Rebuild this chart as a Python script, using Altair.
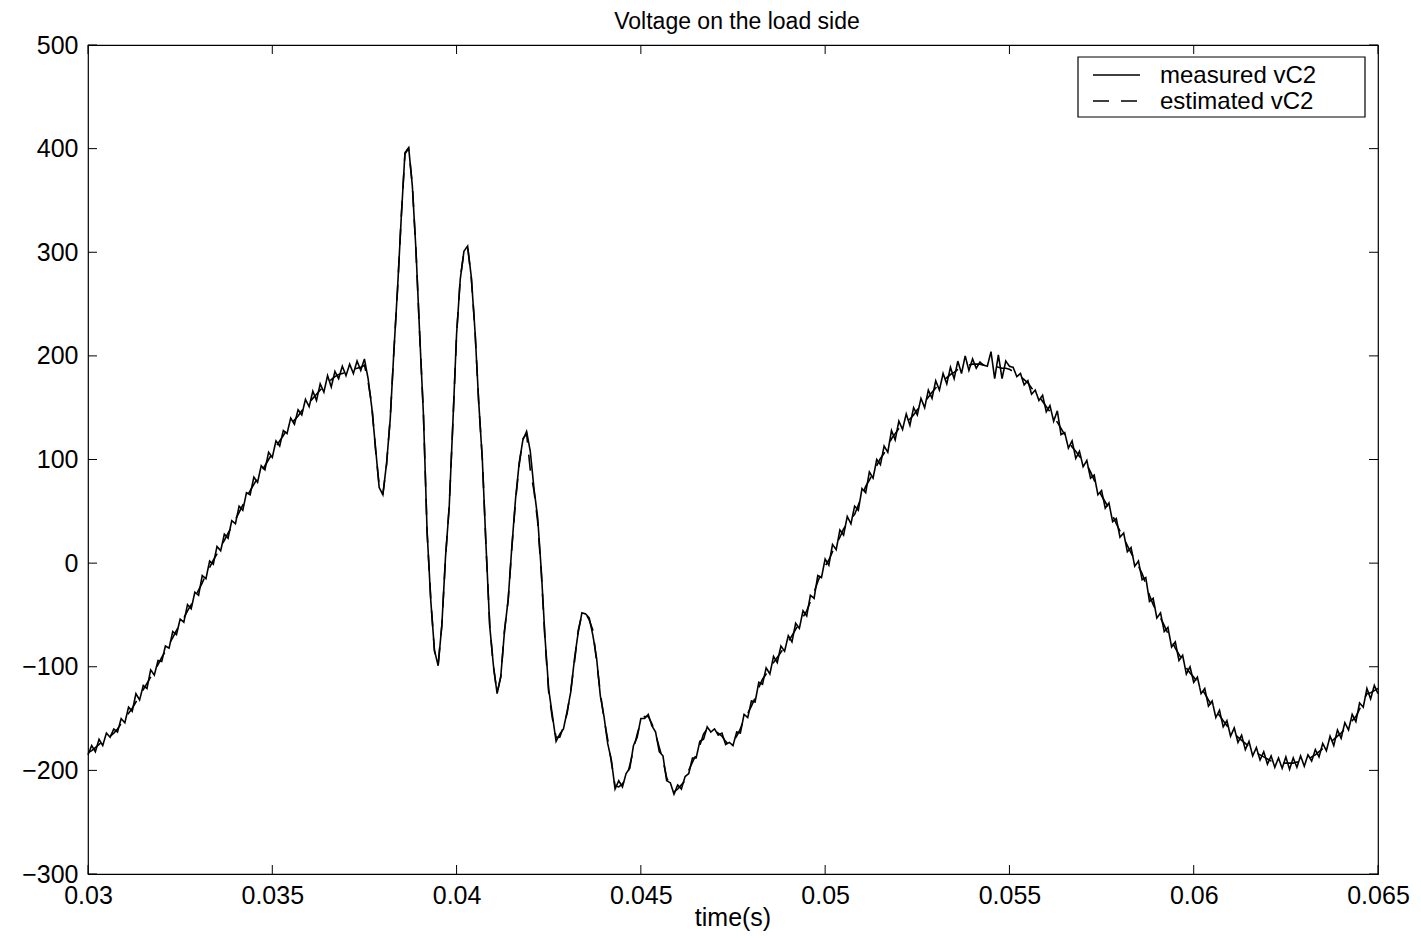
import altair as alt
import pandas as pd

# Sample grid (s)
T_START = 0.03
T_STEP = 0.0001
N = 351

# measured vC2 (V)
MEASURED = [
    -185, -176, -182, -170, -176, -164, -168, -160, -163, -150,
    -154, -139, -143, -126, -132, -118, -121, -103, -108, -94,
    -95, -80, -82, -66, -69, -54, -57, -40, -44, -28,
    -31, -12, -15, 2, -1, 16, 12, 28, 24, 41,
    38, 55, 51, 68, 66, 83, 78, 94, 90, 107,
    102, 118, 113, 128, 125, 140, 134, 148, 143, 158,
    151, 166, 157, 173, 165, 181, 170, 185, 178, 190,
    181, 192, 183, 195, 186, 197, 178, 150, 112, 73,
    66, 96, 139, 205, 266, 334, 396, 401, 364, 301,
    220, 144, 31, -36, -84, -99, -60, 6, 54, 136,
    221, 274, 301, 306, 276, 224, 156, 99, 16, -61,
    -99, -126, -109, -66, -35, 16, 62, 97, 119, 127,
    108, 72, 44, -8, -72, -122, -147, -172, -165, -160,
    -143, -124, -92, -67, -48, -49, -53, -70, -92, -128,
    -148, -174, -190, -218, -210, -216, -203, -198, -176, -168,
    -150, -150, -146, -157, -163, -182, -186, -210, -212, -223,
    -214, -218, -206, -203, -188, -188, -172, -170, -158, -163,
    -160, -166, -164, -175, -173, -176, -163, -164, -146, -149,
    -133, -134, -115, -117, -101, -107, -90, -96, -80, -85,
    -70, -76, -58, -63, -46, -51, -31, -34, -12, -14,
    4, -2, 18, 13, 32, 27, 45, 38, 55, 51,
    72, 68, 88, 82, 100, 95, 113, 107, 128, 119,
    137, 129, 144, 133, 150, 143, 159, 150, 167, 159,
    176, 167, 183, 173, 189, 178, 195, 183, 200, 186,
    197, 188, 194, 191, 190, 204, 178, 201, 178, 195,
    190, 189, 180, 183, 172, 176, 163, 167, 157, 162,
    146, 152, 137, 147, 124, 126, 111, 118, 101, 108,
    93, 99, 82, 85, 66, 70, 53, 58, 40, 43,
    25, 29, 11, 15, -3, 2, -16, -14, -37, -34,
    -53, -48, -66, -62, -81, -76, -94, -89, -107, -100,
    -115, -110, -126, -121, -138, -133, -149, -142, -158, -152,
    -167, -159, -173, -166, -180, -172, -186, -178, -190, -182,
    -194, -186, -197, -188, -198, -187, -199, -188, -197, -186,
    -196, -185, -191, -180, -187, -174, -181, -167, -176, -161,
    -169, -154, -161, -146, -153, -135, -139, -121, -131, -118,
    -126,
]

# estimated vC2 (V)
ESTIMATED = [
    -183, -181, -178, -175, -172, -170, -167, -164, -160, -155,
    -150, -145, -140, -134, -128, -122, -116, -110, -104, -98,
    -91, -85, -78, -72, -65, -59, -53, -46, -40, -33,
    -26, -19, -11, -4, 3, 9, 16, 22, 29, 35,
    42, 49, 56, 63, 70, 76, 82, 88, 94, 100,
    106, 112, 118, 123, 129, 134, 138, 142, 147, 151,
    155, 159, 163, 167, 171, 174, 177, 180, 182, 183,
    184, 186, 187, 188, 189, 191, 175, 153, 110, 75,
    66, 95, 140, 205, 265, 335, 395, 400, 365, 300,
    220, 145, 30, -35, -85, -98, -60, 5, 55, 135,
    220, 275, 300, 305, 275, 225, 155, 100, 15, -60,
    -100, -125, -110, -65, -36, 15, 60, 95, 120, 125,
    90, 70, 40, -10, -75, -125, -150, -168, -168, -158,
    -145, -122, -95, -65, -50, -48, -55, -65, -95, -125,
    -150, -170, -192, -215, -216, -213, -208, -195, -180, -165,
    -153, -148, -148, -155, -165, -178, -190, -207, -215, -221,
    -218, -214, -210, -200, -192, -185, -176, -165, -160, -161,
    -162, -164, -167, -172, -176, -172, -167, -160, -150, -145,
    -138, -130, -120, -112, -107, -102, -96, -91, -86, -81,
    -76, -70, -64, -58, -52, -46, -37, -28, -18, -9,
    -3, 3, 11, 18, 25, 33, 38, 43, 47, 56,
    65, 74, 80, 87, 94, 101, 106, 113, 120, 125,
    130, 134, 137, 139, 143, 148, 152, 156, 160, 165,
    169, 173, 176, 179, 182, 184, 187, 189, 190, 191,
    192, 192, 192, 191, 191, 190, 190, 189, 188, 188,
    187, 185, 183, 180, 177, 174, 169, 165, 161, 156,
    151, 146, 141, 136, 130, 124, 118, 112, 108, 103,
    99, 95, 88, 80, 72, 65, 59, 53, 46, 38,
    31, 24, 17, 10, 3, -3, -10, -20, -31, -40,
    -47, -53, -60, -68, -75, -82, -88, -94, -101, -106,
    -110, -115, -120, -126, -132, -138, -143, -147, -152, -157,
    -161, -164, -168, -171, -174, -177, -180, -183, -185, -187,
    -189, -191, -192, -193, -193, -193, -193, -193, -192, -192,
    -191, -190, -187, -185, -182, -179, -176, -173, -170, -167,
    -164, -160, -156, -152, -148, -141, -133, -126, -125, -123,
    -121,
]

SERIES = ["measured vC2", "estimated vC2"]
X_TICKS = [0.03, 0.035, 0.04, 0.045, 0.05, 0.055, 0.06, 0.065]
Y_TICKS = [-300, -200, -100, 0, 100, 200, 300, 400, 500]
TITLE = "Voltage on the load side"
X_TITLE = "time(s)"

TIME = [round(T_START + i * T_STEP, 4) for i in range(N)]
assert len(MEASURED) == N and len(ESTIMATED) == N

df = pd.concat([
    pd.DataFrame({"t": TIME, "v": ESTIMATED, "series": SERIES[1], "order": 1}),
    pd.DataFrame({"t": TIME, "v": MEASURED, "series": SERIES[0], "order": 2}),
])

W, H = 1290, 829
FONT = "Liberation Sans"
TL = 9  # inward tick length
LW = 1.6

xs = alt.Scale(domain=[0.03, 0.065], nice=False, zero=False)
ys = alt.Scale(domain=[-300, 500], nice=False, zero=False)

lines = alt.Chart(df).mark_line(strokeWidth=LW, color="black").encode(
    x=alt.X("t:Q", scale=xs, title=None,
            axis=alt.Axis(values=X_TICKS, format="~g", labelFlush=False,
                          labelOverlap=False, labelPadding=9)),
    y=alt.Y("v:Q", scale=ys, title=None,
            axis=alt.Axis(values=Y_TICKS, format="d", labelPadding=10)),
    strokeDash=alt.StrokeDash(
        "series:N",
        scale=alt.Scale(domain=SERIES, range=[[1, 0], [16, 12]]),
        legend=None,
    ),
    detail="series:N",
    order="order:Q",
)

xt = pd.DataFrame({"x": X_TICKS})
yt = pd.DataFrame({"y": Y_TICKS})

bottom_ticks = alt.Chart(xt).mark_rule(color="black", strokeWidth=1).encode(
    x=alt.X("x:Q", scale=xs), y=alt.value(H - TL), y2=alt.value(H))
top_ticks = alt.Chart(xt).mark_rule(color="black", strokeWidth=1).encode(
    x=alt.X("x:Q", scale=xs), y=alt.value(0), y2=alt.value(TL))
left_ticks = alt.Chart(yt).mark_rule(color="black", strokeWidth=1).encode(
    y=alt.Y("y:Q", scale=ys), x=alt.value(0), x2=alt.value(TL))
right_ticks = alt.Chart(yt).mark_rule(color="black", strokeWidth=1).encode(
    y=alt.Y("y:Q", scale=ys), x=alt.value(W - TL), x2=alt.value(W))

# title and x-axis title as text marks
title_df = pd.DataFrame({"label": [TITLE]})
title_mark = alt.Chart(title_df).mark_text(
    font=FONT, fontSize=23, color="black", baseline="alphabetic", align="center"
).encode(text="label:N", x=alt.value(W / 2 + 4), y=alt.value(-16))

xtitle_df = pd.DataFrame({"label": [X_TITLE]})
xtitle_mark = alt.Chart(xtitle_df).mark_text(
    font=FONT, fontSize=25, color="black", baseline="alphabetic", align="center"
).encode(text="label:N", x=alt.value(W / 2), y=alt.value(H + 52))

# legend box drawn by hand (MATLAB style)
LX0, LX1, LY0, LY1 = 990, 1277, 12, 72
legend_box = alt.Chart(title_df).mark_rect(
    fill="white", stroke="black", strokeWidth=1.2
).encode(x=alt.value(LX0), x2=alt.value(LX1), y=alt.value(LY0), y2=alt.value(LY1))

leg_df = pd.DataFrame({"series": SERIES, "row": [0, 1]})
ROW_Y = [30, 56]
leg_lines = []
leg_texts = []
for i, name in enumerate(SERIES):
    sub = alt.Chart(leg_df).transform_filter(alt.datum.row == i)
    leg_lines.append(
        sub.mark_rule(color="black", strokeWidth=LW,
                      strokeDash=[1, 0] if i == 0 else [16, 12]).encode(
            x=alt.value(1005), x2=alt.value(1052),
            y=alt.value(ROW_Y[i]), y2=alt.value(ROW_Y[i]))
    )
    leg_texts.append(
        sub.mark_text(font=FONT, fontSize=24, color="black", align="left",
                      baseline="middle").encode(
            text="series:N", x=alt.value(1072), y=alt.value(ROW_Y[i] + 1))
    )

chart = alt.layer(
    lines, bottom_ticks, top_ticks, left_ticks, right_ticks,
    legend_box, *leg_lines, *leg_texts, title_mark, xtitle_mark
).properties(
    width=W, height=H,
    padding={"left": 80, "top": 37, "right": 35, "bottom": 57},
    autosize=alt.AutoSizeParams(type="none"),
    background="white",
).configure_view(
    stroke="black", strokeWidth=1.2
).configure_axis(
    grid=False, ticks=False, domain=False,
    labelFont=FONT, labelFontSize=25, labelColor="black",
)

chart.save("out.html", embed_options={"renderer": "svg", "actions": False})
